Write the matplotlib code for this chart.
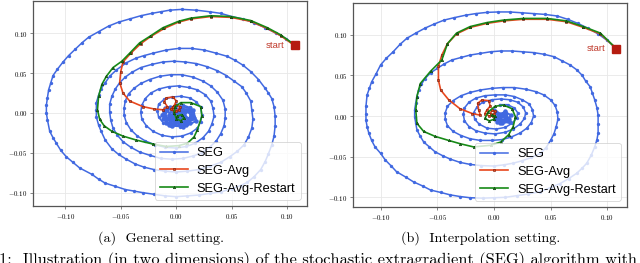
import numpy as np
import matplotlib
matplotlib.use("Agg")
import matplotlib.pyplot as plt

plt.rcParams["mathtext.fontset"] = "cm"

# ---- panel (a): general setting (x, y) ----
seg_general = [
    (0.107, 0.085), (0.099, 0.093), (0.090, 0.100), (0.080, 0.107), (0.070, 0.113), (0.060, 0.118),
    (0.050, 0.121), (0.040, 0.125), (0.030, 0.127), (0.018, 0.129), (0.005, 0.130), (-0.006, 0.129),
    (-0.014, 0.127), (-0.022, 0.125), (-0.032, 0.122), (-0.042, 0.118), (-0.052, 0.114), (-0.061, 0.109),
    (-0.070, 0.102), (-0.079, 0.095), (-0.085, 0.088), (-0.091, 0.080), (-0.097, 0.072), (-0.102, 0.064),
    (-0.107, 0.055), (-0.111, 0.047), (-0.113, 0.038), (-0.115, 0.029), (-0.116, 0.019), (-0.117, 0.010),
    (-0.117, 0.000), (-0.116, -0.009), (-0.114, -0.023), (-0.111, -0.031), (-0.108, -0.038), (-0.104, -0.047),
    (-0.099, -0.055), (-0.093, -0.062), (-0.087, -0.069), (-0.076, -0.077), (-0.070, -0.083), (-0.064, -0.088),
    (-0.055, -0.092), (-0.046, -0.096), (-0.038, -0.098), (-0.030, -0.100), (-0.020, -0.102), (-0.010, -0.104),
    (0.000, -0.105), (0.010, -0.104), (0.020, -0.103), (0.030, -0.101), (0.040, -0.099), (0.050, -0.095),
    (0.058, -0.091), (0.064, -0.087), (0.070, -0.080), (0.076, -0.071), (0.080, -0.061), (0.083, -0.051),
    (0.086, -0.040), (0.088, -0.029), (0.089, -0.016), (0.089, -0.004), (0.088, 0.008), (0.086, 0.018),
    (0.083, 0.025), (0.080, 0.031), (0.074, 0.042), (0.067, 0.052), (0.060, 0.060), (0.053, 0.066),
    (0.046, 0.071), (0.036, 0.075), (0.025, 0.079), (0.014, 0.081), (0.002, 0.081),
    (-0.009, 0.079), (-0.021, 0.075), (-0.029, 0.072), (-0.036, 0.069), (-0.045, 0.063), (-0.054, 0.054),
    (-0.060, 0.046), (-0.064, 0.038), (-0.068, 0.030), (-0.070, 0.022), (-0.072, 0.013), (-0.072, 0.004),
    (-0.072, -0.005), (-0.070, -0.015), (-0.068, -0.022), (-0.064, -0.034), (-0.058, -0.045), (-0.052, -0.052),
    (-0.045, -0.058), (-0.037, -0.064), (-0.029, -0.068), (-0.020, -0.071), (-0.010, -0.073), (0.000, -0.074),
    (0.010, -0.073), (0.020, -0.071), (0.030, -0.067), (0.040, -0.062), (0.048, -0.055), (0.055, -0.048),
    (0.061, -0.040), (0.065, -0.030), (0.068, -0.019), (0.069, -0.008), (0.068, 0.004), (0.067, 0.015),
    (0.063, 0.025), (0.059, 0.033), (0.052, 0.040), (0.045, 0.047), (0.037, 0.053), (0.028, 0.058),
    (0.018, 0.062), (0.008, 0.064), (-0.002, 0.065),
    (-0.012, 0.064), (-0.022, 0.061), (-0.032, 0.057), (-0.040, 0.051), (-0.046, 0.045), (-0.051, 0.038),
    (-0.055, 0.030), (-0.058, 0.021), (-0.060, 0.011), (-0.060, 0.001), (-0.059, -0.009), (-0.057, -0.019),
    (-0.053, -0.028), (-0.048, -0.036), (-0.041, -0.043), (-0.033, -0.049), (-0.024, -0.053), (-0.014, -0.057),
    (-0.004, -0.058), (0.006, -0.057), (0.015, -0.054), (0.023, -0.050), (0.030, -0.043), (0.036, -0.035),
    (0.040, -0.026), (0.043, -0.016), (0.044, -0.006), (0.044, 0.005), (0.042, 0.016), (0.037, 0.026),
    (0.031, 0.034), (0.024, 0.040), (0.015, 0.045), (0.005, 0.048),
    (-0.005, 0.048), (-0.015, 0.046), (-0.024, 0.042), (-0.032, 0.037), (-0.038, 0.031), (-0.043, 0.024),
    (-0.046, 0.015), (-0.047, 0.006), (-0.047, -0.003), (-0.045, -0.012), (-0.041, -0.021), (-0.035, -0.029),
    (-0.028, -0.035), (-0.019, -0.040), (-0.010, -0.043), (0.000, -0.044), (0.009, -0.042), (0.017, -0.038),
    (0.024, -0.031), (0.029, -0.023), (0.032, -0.014), (0.034, -0.004), (0.033, 0.006), (0.031, 0.015),
    (0.026, 0.023), (0.019, 0.029), (0.011, 0.032), (0.002, 0.034),
    (-0.007, 0.033), (-0.016, 0.030), (-0.023, 0.025), (-0.028, 0.018), (-0.031, 0.010), (-0.032, 0.001),
    (-0.031, -0.008), (-0.027, -0.016), (-0.021, -0.023), (-0.013, -0.028), (-0.004, -0.030), (0.005, -0.029),
    (0.013, -0.025), (0.019, -0.019), (0.022, -0.011), (0.023, -0.002), (0.022, 0.007), (0.018, 0.014),
    (0.012, 0.019), (0.004, 0.021),
    (-0.004, 0.020), (-0.011, 0.017), (-0.016, 0.011), (-0.017, 0.003), (-0.016, -0.005), (-0.012, -0.012),
    (-0.005, -0.016), (0.003, -0.017), (0.010, -0.014), (0.014, -0.008), (0.015, 0.000), (0.012, 0.007),
    (0.006, 0.010),
]
# noisy cloud of SEG iterates around the solution
seg_general_cloud = [
    (-0.002, 0.008), (-0.008, 0.004), (-0.010, -0.004), (-0.006, -0.010), (0.002, -0.013), (0.010, -0.010),
    (0.013, -0.003), (0.010, 0.004), (0.004, 0.006), (-0.004, 0.003), (-0.007, -0.003), (-0.003, -0.008),
    (0.004, -0.009), (0.008, -0.005), (0.007, 0.001), (0.001, 0.003), (-0.003, -0.001), (0.000, -0.005),
    (0.005, -0.004), (0.003, 0.000), (-0.012, -0.008), (-0.004, -0.016), (0.009, -0.015), (0.016, -0.006),
    (0.012, 0.006), (0.000, 0.010), (-0.011, 0.002), (-0.009, -0.012), (0.006, -0.018), (0.018, -0.010),
    (0.015, 0.004), (0.002, -0.002), (-0.006, 0.007), (-0.013, -0.002), (-0.007, -0.015), (0.003, -0.011),
    (0.012, -0.013), (0.014, -0.001), (0.006, 0.004), (-0.001, -0.011), (-0.008, -0.007), (0.011, -0.007),
    (0.000, 0.005), (-0.005, -0.005), (0.007, -0.012), (0.009, 0.002), (-0.010, 0.006), (0.004, -0.016),
]
avg_general = [
    (0.107, 0.085), (0.104, 0.087), (0.094, 0.097), (0.082, 0.106), (0.067, 0.115), (0.049, 0.120),
    (0.031, 0.121), (0.013, 0.118), (0.002, 0.114), (-0.011, 0.106), (-0.023, 0.096), (-0.032, 0.087),
    (-0.041, 0.075), (-0.048, 0.064), (-0.050, 0.052), (-0.051, 0.038), (-0.048, 0.025), (-0.042, 0.015),
    (-0.030, 0.008), (-0.020, 0.005), (-0.012, 0.004), (-0.008, 0.008), (-0.011, 0.014), (-0.009, 0.019),
    (-0.003, 0.020), (0.000, 0.015), (-0.002, 0.009), (-0.005, 0.005), (-0.002, 0.002), (0.002, 0.004),
    (0.003, 0.008), (0.000, 0.010), (-0.003, 0.007), (-0.002, 0.003), (0.000, 0.002),
]
restart_general = [
    (0.107, 0.085), (0.104, 0.088), (0.094, 0.098), (0.082, 0.107), (0.067, 0.116), (0.049, 0.121),
    (0.031, 0.122), (0.013, 0.119), (0.002, 0.115), (-0.012, 0.107), (-0.024, 0.096), (-0.033, 0.088),
    (-0.042, 0.075), (-0.049, 0.065), (-0.057, 0.057), (-0.063, 0.046), (-0.067, 0.036), (-0.070, 0.021),
    (-0.071, 0.004), (-0.069, -0.008), (-0.065, -0.016), (-0.058, -0.023), (-0.048, -0.029), (-0.036, -0.034),
    (-0.021, -0.039), (-0.009, -0.042), (0.002, -0.041), (0.010, -0.038), (0.016, -0.030), (0.019, -0.021),
    (0.023, -0.004), (0.022, 0.008), (0.013, 0.013), (0.004, 0.013), (-0.001, 0.008), (-0.002, 0.000),
    (0.000, -0.007), (0.004, -0.010), (0.007, -0.006), (0.005, -0.002), (0.001, -0.004),
]

# ---- panel (b): interpolation setting ----
seg_interp = [
    (0.108, 0.083), (0.100, 0.093), (0.092, 0.101), (0.083, 0.108), (0.074, 0.114), (0.065, 0.119),
    (0.056, 0.123), (0.045, 0.125), (0.035, 0.126), (0.025, 0.127), (0.014, 0.128), (0.004, 0.128),
    (-0.006, 0.1275), (-0.016, 0.126), (-0.025, 0.124), (-0.035, 0.121), (-0.044, 0.118), (-0.053, 0.113),
    (-0.061, 0.108), (-0.069, 0.102), (-0.077, 0.0955), (-0.083, 0.088), (-0.089, 0.079), (-0.095, 0.071),
    (-0.100, 0.063), (-0.104, 0.052), (-0.108, 0.042), (-0.110, 0.034), (-0.112, 0.026), (-0.113, 0.012),
    (-0.113, 0.003), (-0.113, -0.005), (-0.112, -0.013), (-0.1105, -0.021), (-0.108, -0.030), (-0.105, -0.038),
    (-0.100, -0.046), (-0.096, -0.054), (-0.091, -0.061), (-0.086, -0.0685), (-0.078, -0.075), (-0.071, -0.081),
    (-0.063, -0.086), (-0.056, -0.091), (-0.047, -0.094), (-0.0385, -0.097), (-0.030, -0.099), (-0.021, -0.1005),
    (-0.010, -0.101), (0.000, -0.1005), (0.010, -0.100), (0.020, -0.098), (0.030, -0.096), (0.041, -0.093),
    (0.050, -0.088), (0.0585, -0.083), (0.066, -0.077), (0.073, -0.0705), (0.078, -0.064), (0.082, -0.058),
    (0.086, -0.048), (0.089, -0.038), (0.091, -0.029), (0.092, -0.021), (0.092, -0.010), (0.092, 0.001),
    (0.091, 0.010), (0.089, 0.020), (0.087, 0.028), (0.085, 0.036), (0.081, 0.043), (0.078, 0.050),
    (0.073, 0.057), (0.067, 0.063), (0.060, 0.068), (0.053, 0.073), (0.044, 0.076), (0.035, 0.078),
    (0.026, 0.079), (0.016, 0.080), (0.006, 0.080),
    (-0.003, 0.079), (-0.012, 0.077), (-0.021, 0.075), (-0.029, 0.072), (-0.037, 0.069), (-0.044, 0.064),
    (-0.050, 0.0586), (-0.056, 0.053), (-0.061, 0.046), (-0.064, 0.039), (-0.0665, 0.032), (-0.068, 0.024),
    (-0.069, 0.016), (-0.070, 0.008), (-0.070, -0.001), (-0.069, -0.009), (-0.068, -0.017), (-0.065, -0.025),
    (-0.062, -0.032), (-0.057, -0.038), (-0.052, -0.044), (-0.045, -0.049), (-0.0385, -0.053), (-0.030, -0.057),
    (-0.021, -0.0595), (-0.011, -0.061), (0.000, -0.0615), (0.009, -0.060), (0.017, -0.058), (0.025, -0.055),
    (0.033, -0.051), (0.041, -0.046), (0.046, -0.039), (0.050, -0.030), (0.053, -0.022), (0.055, -0.013),
    (0.0565, -0.004), (0.056, 0.005), (0.054, 0.013), (0.050, 0.020), (0.044, 0.026), (0.037, 0.030),
    (0.028, 0.033), (0.018, 0.035), (0.008, 0.035),
    (-0.002, 0.034), (-0.012, 0.032), (-0.021, 0.029), (-0.029, 0.025), (-0.036, 0.019), (-0.041, 0.012),
    (-0.043, 0.004), (-0.043, -0.004), (-0.041, -0.012), (-0.036, -0.019), (-0.029, -0.024), (-0.021, -0.028),
    (-0.012, -0.030), (-0.002, -0.030), (0.007, -0.029), (0.015, -0.026), (0.023, -0.021), (0.029, -0.015),
    (0.033, -0.008), (0.035, 0.000), (0.034, 0.008), (0.031, 0.015), (0.025, 0.020), (0.018, 0.024),
    (0.010, 0.026), (0.001, 0.026),
    (-0.008, 0.025), (-0.016, 0.022), (-0.022, 0.017), (-0.026, 0.010), (-0.027, 0.002), (-0.026, -0.006),
    (-0.022, -0.013), (-0.016, -0.018), (-0.008, -0.021), (0.001, -0.022), (0.010, -0.020), (0.017, -0.016),
    (0.023, -0.010), (0.027, -0.003), (0.028, 0.004), (0.026, 0.011), (0.021, 0.017), (0.014, 0.020),
    (0.006, 0.021),
    (-0.002, 0.020), (-0.010, 0.017), (-0.015, 0.011), (-0.018, 0.004), (-0.017, -0.004), (-0.013, -0.010),
    (-0.006, -0.015), (0.002, -0.016), (0.010, -0.014), (0.016, -0.009), (0.020, -0.003), (0.021, 0.004),
    (0.018, 0.010), (0.012, 0.014), (0.005, 0.014),
]
seg_interp_cloud = [
    (0.000, 0.008), (0.004, 0.002), (0.010, 0.005), (0.015, 0.001), (0.012, -0.006), (0.005, -0.008),
    (0.001, -0.004), (0.006, 0.000), (0.011, -0.002), (0.008, -0.005), (0.003, -0.001), (0.008, 0.003),
    (0.013, -0.004), (0.004, -0.006), (0.009, 0.001), (0.002, 0.005), (0.007, -0.009), (0.014, -0.007),
    (0.010, 0.006), (0.003, -0.007),
]
avg_interp = [
    (0.108, 0.083), (0.094, 0.101), (0.079, 0.109), (0.064, 0.116), (0.047, 0.119), (0.026, 0.119),
    (0.0085, 0.117), (-0.006, 0.114), (-0.021, 0.109), (-0.033, 0.101), (-0.041, 0.089), (-0.046, 0.075),
    (-0.049, 0.061), (-0.049, 0.044), (-0.047, 0.032), (-0.040, 0.020), (-0.030, 0.009), (-0.019, 0.003),
    (-0.012, 0.001), (-0.0135, 0.0074), (-0.0144, 0.0156), (-0.0106, 0.0197), (-0.0047, 0.0189),
    (-0.0032, 0.0123), (-0.0062, 0.0074), (-0.008, 0.003), (-0.004, 0.000), (0.000, 0.002), (0.001, 0.006),
    (-0.002, 0.007), (-0.003, 0.003), (-0.001, 0.000),
]
restart_interp = [
    (0.108, 0.083), (0.094, 0.102), (0.079, 0.110), (0.064, 0.117), (0.047, 0.120), (0.026, 0.120),
    (0.0085, 0.118), (-0.006, 0.115), (-0.021, 0.110), (-0.033, 0.102), (-0.041, 0.089), (-0.046, 0.069),
    (-0.056, 0.055), (-0.065, 0.040), (-0.068, 0.024), (-0.069, 0.007), (-0.068, -0.009), (-0.062, -0.019),
    (-0.052, -0.025), (-0.040, -0.030), (-0.030, -0.034), (-0.018, -0.038), (-0.003, -0.036), (0.006, -0.032),
    (0.013, -0.023), (0.017, -0.013), (0.019, -0.001), (0.016, 0.009), (0.0085, 0.0135), (0.001, 0.012),
    (-0.005, 0.005), (-0.008, -0.003), (-0.004, -0.006), (0.000, -0.004), (0.001, 0.000), (-0.002, 0.001),
]

start_general = (0.107, 0.085)
start_interp = (0.108, 0.083)
ticks = [-0.10, -0.05, 0.00, 0.05, 0.10]
tick_labels = [r"$-0.10$", r"$-0.05$", r"$0.00$", r"$0.05$", r"$0.10$"]
subcaptions = ["(a)  General setting.", "(b)  Interpolation setting."]
caption = ("1:  Illustration (in two dimensions) of the stochastic extragradient (SEG) "
           "algorithm with a constant")

blue = "#4169e1"
red = "#e8471d"
green = "#178a17"


def draw_panel(ax, seg, cloud, avg, restart, start, xlim, ylim):
    seg = np.array(seg).T
    cloud = np.array(cloud).T
    avg = np.array(avg).T
    restart = np.array(restart).T
    ax.plot(seg[0], seg[1], color=blue, lw=1.1, marker="o", ms=2.4, mew=0, label="SEG", zorder=2)
    ax.plot(cloud[0], cloud[1], color=blue, lw=1.4, marker="o", ms=3.2, mew=0, zorder=2)
    ax.plot(avg[0], avg[1], color=red, lw=1.2, marker="s", ms=1.6, mfc=red, mec="#6b1a0a", mew=0.4,
            label="SEG-Avg", zorder=3)
    ax.plot(restart[0], restart[1], color=green, lw=1.2, marker="^", ms=1.8, mfc=green, mec="#0d3a0d",
            mew=0.4, label="SEG-Avg-Restart", zorder=4)
    ax.plot([start[0]], [start[1]], marker="s", ms=6, color="#b51c10", ls="none", zorder=5)
    ax.annotate("start", xy=start, xytext=(-7.5, 0), textcoords="offset points", ha="right", va="center",
                color="#c0392b", fontsize=6.8, family="Liberation Sans")
    ax.set_xlim(*xlim)
    ax.set_ylim(*ylim)
    ax.set_xticks(ticks)
    ax.set_xticklabels(tick_labels, fontsize=5)
    ax.set_yticks(ticks)
    ax.set_yticklabels(tick_labels, fontsize=5)
    ax.grid(True, color="#e8e8e8", lw=0.6)
    ax.set_axisbelow(True)
    ax.tick_params(length=2, width=0.5, color="#555555", pad=2)
    for sp in ax.spines.values():
        sp.set_color("#555555")
        sp.set_linewidth(0.9)
    leg = ax.legend(loc="lower right", prop={"family": "Liberation Sans", "size": 9.2},
                    handlelength=2.2, handletextpad=0.7, labelspacing=0.45, borderpad=0.4, fancybox=True)
    leg.get_frame().set_linewidth(0.6)


fig = plt.figure(figsize=(6.4, 2.63), dpi=100)
ax_a = fig.add_axes([0.052, 0.2167, 0.4277, 0.7795])
ax_b = fig.add_axes([0.552, 0.2129, 0.428, 0.7769])

draw_panel(ax_a, seg_general, seg_general_cloud, avg_general, restart_general, start_general,
           (-0.1288, 0.1177), (-0.1167, 0.1405))
draw_panel(ax_b, seg_interp, seg_interp_cloud, avg_interp, restart_interp, start_interp,
           (-0.1242, 0.1177), (-0.1119, 0.1394))

fig.text(0.252, 0.095, subcaptions[0], ha="center", va="center", fontsize=10.2, family="cmr10")
fig.text(0.751, 0.095, subcaptions[1], ha="center", va="center", fontsize=10.2, family="cmr10")
fig.text(-0.002, 0.042, caption, ha="left", va="top", fontsize=11.8, family="cmr10")

fig.savefig("out.png", dpi=100)
